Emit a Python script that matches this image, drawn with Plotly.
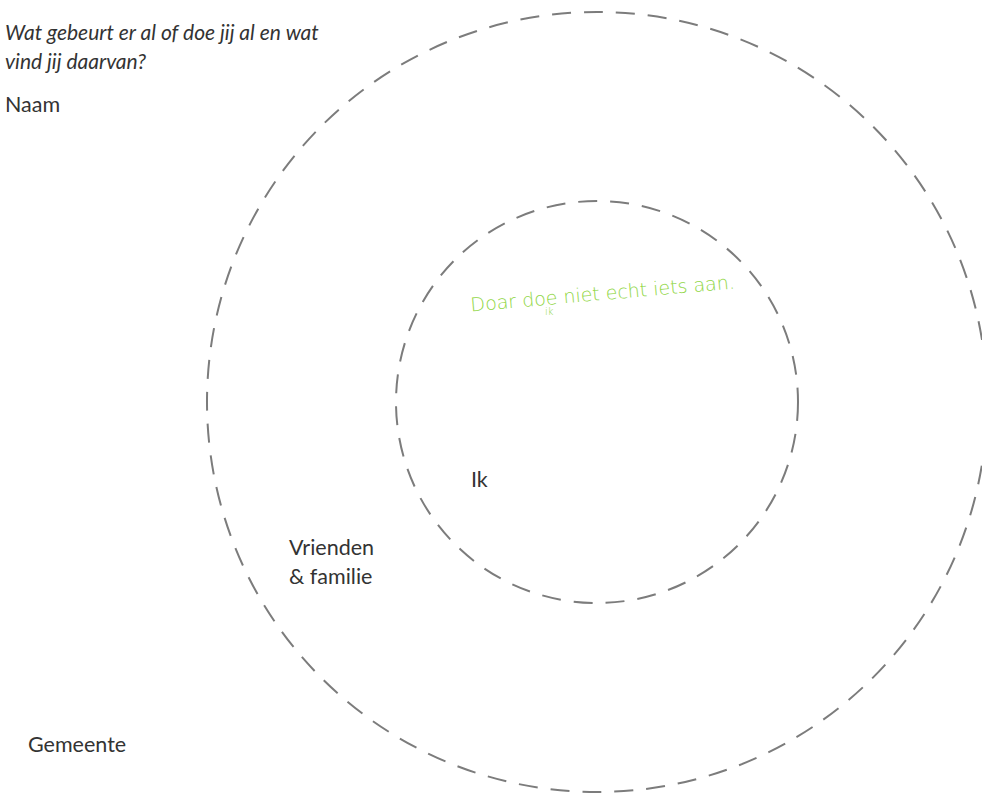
import plotly.graph_objects as go

# canvas in pixel units of the worksheet scan
W, H = 982, 801

# rings: label, radius (px) around a common centre
ring_names = ["Ik", "Vrienden & familie"]
ring_radius = [201, 390]
centre = (597, 402)

# printed labels on the worksheet
label_text = ["Naam", "Ik", "Vrienden", "& familie", "Gemeente"]
label_x = [3, 469, 287, 287, 26]
label_y = [104, 479, 547, 576, 744]

question = ["Wat gebeurt er al of doe jij al en wat", "vind jij daarvan?"]
question_y = [31, 60]

# handwritten answer in the inner ring
answer = "Doar doe niet echt iets aan."
answer_ik = "ik"

fig = go.Figure()
fig.add_trace(go.Scatter(x=[0, W], y=[0, H], mode="markers",
                         marker=dict(opacity=0), hoverinfo="skip", showlegend=False))

for r in ring_radius:
    fig.add_shape(type="circle", xref="x", yref="y",
                  x0=centre[0] - r, x1=centre[0] + r,
                  y0=centre[1] - r, y1=centre[1] + r,
                  line=dict(color="#7c7c7c", width=2, dash="19px,13px"),
                  fillcolor="rgba(0,0,0,0)")

for i, q in enumerate(question):
    fig.add_annotation(x=3, y=question_y[i], text=q, showarrow=False,
                       xanchor="left", yanchor="middle",
                       font=dict(family="Lato", size=21, color="#333333", style="italic"))

for t, x, y in zip(label_text, label_x, label_y):
    fig.add_annotation(x=x, y=y, text=t, showarrow=False,
                       xanchor="left", yanchor="middle",
                       font=dict(family="Lato", size=21.5, color="#333333"))

fig.add_annotation(x=602, y=293, text=answer, showarrow=False, textangle=-5,
                   xanchor="center", yanchor="middle",
                   font=dict(family="DejaVu Sans", size=19, color="#8fd644", weight=300))
fig.add_annotation(x=549, y=311, text=answer_ik, showarrow=False,
                   xanchor="center", yanchor="middle",
                   font=dict(family="DejaVu Sans", size=10, color="#8fd644", weight=300))

fig.update_layout(
    width=W, height=H,
    margin=dict(l=0, r=0, t=0, b=0),
    paper_bgcolor="white", plot_bgcolor="white",
    xaxis=dict(range=[0, W], visible=False, fixedrange=True),
    yaxis=dict(range=[H, 0], visible=False, fixedrange=True),
    showlegend=False,
    hovermode=False,
)

# drop the default 8px page margin so the figure fills the window
fig.write_html("out.html", config={"displayModeBar": False},
               post_script="document.body.style.margin='0';")
